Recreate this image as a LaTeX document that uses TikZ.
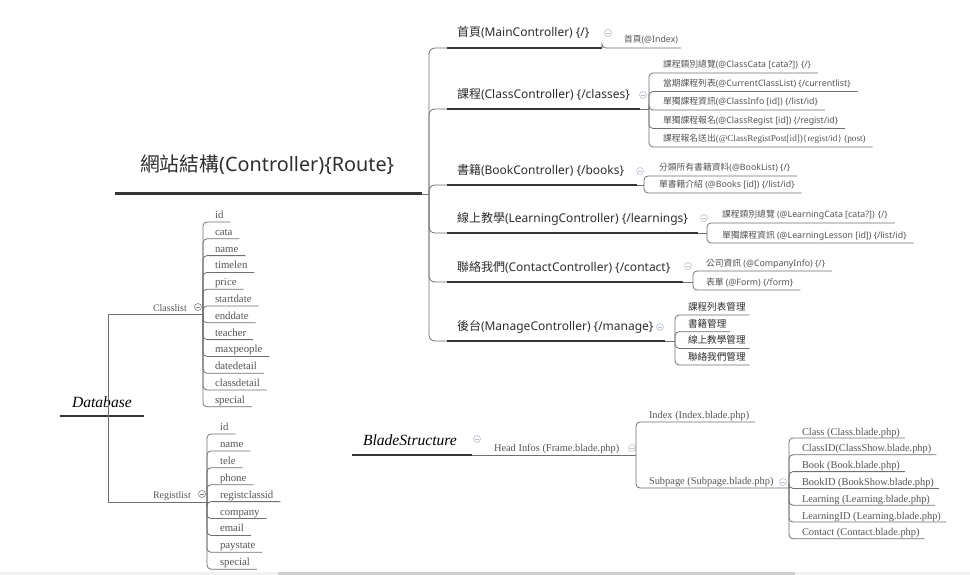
\documentclass[tikz,border=0pt]{standalone}
\usepackage{fontspec}
\setmainfont{Liberation Serif}
\newfontfamily\cjk{Noto Sans CJK TC}
\newfontfamily\nsans{Noto Sans}
\usetikzlibrary{calc}
\definecolor{txt}{HTML}{2E2E2E}
\definecolor{subc}{HTML}{555555}
\definecolor{heavyc}{HTML}{353535}
\definecolor{lnc}{HTML}{707070}
\definecolor{ico}{HTML}{BAC2CE}
\definecolor{icod}{HTML}{858585}
\definecolor{sbar}{HTML}{F1F1F1}
\definecolor{sthumb}{HTML}{CFCFCF}
\newcommand\zhtxt[1]{{\cjk #1}}
\newcommand\lpad{7}
% name, style, junction, text x, underline y, baseline offset, text
\newcommand\mmleaf[7]{%
  \coordinate (#1y) at (0,#5);
  \node[#2, anchor=base west] (#1) at (#4,#5-#6) {#7};
  \draw[elbow] (#3) |- ($(#1.east |- #1y)+(\lpad,0)$);
}
\begin{document}
\begin{tikzpicture}[x=1pt,y=-1pt,
  every node/.style={inner sep=0pt, outer sep=0pt},
  ttl/.style={font=\nsans\fontsize{19.8}{22}\selectfont, text=txt},
  br/.style={font=\nsans\fontsize{12}{14}\selectfont, text=txt},
  lf/.style={font=\nsans\fontsize{8.8}{10}\selectfont, text=subc},
  lfb/.style={font=\nsans\fontsize{9.6}{11}\selectfont, text=txt},
  fld/.style={font=\fontsize{10.8}{12}\selectfont, text=subc},
  lbl/.style={font=\fontsize{10}{12}\selectfont, text=subc},
  bld/.style={font=\fontsize{10.4}{12}\selectfont, text=subc},
  root/.style={font=\itshape\fontsize{15.6}{18}\selectfont, text=black},
  heavy/.style={draw=heavyc, line width=2.6pt},
  lnk/.style={draw=lnc, line width=0.8pt},
  elbow/.style={lnk, rounded corners=4pt},
  coll/.style={circle, draw=#1, line width=0.6pt, minimum size=7pt,
    path picture={\draw[#1, line width=0.6pt] ([xshift=1.7pt]path picture bounding box.west) -- ([xshift=-1.7pt]path picture bounding box.east);}},
  coll/.default=ico]
\fill[white] (0,0) rectangle (970,575);
\useasboundingbox (0,0) rectangle (970,575);
\fill[sbar] (0,572) rectangle (970,575);
\fill[sthumb] (278,572) rectangle (795,575);

% ---------- Title / controller tree ----------
\node[ttl, anchor=base west] (title) at (140,172) {\zhtxt{網站結構}(Controller)\{Route\}};
\coordinate (tL) at (115,194);
\coordinate (tR) at (422,194);
\draw[heavy, line width=3pt] (tL) -- (tR);
\coordinate (hub) at (429,194);
\draw[lnk] (tR) -- (hub);

% branch 1
\node[br, anchor=base west] (b1) at (457,37) {\zhtxt{首頁}(MainController) \{/\}};
\coordinate (b1s) at (447,48); \coordinate (b1e) at (602,48);
\draw[elbow, rounded corners=6pt] (hub) |- (b1s);
\draw[heavy] (b1s) -- (b1e);
\node[coll] (i1) at (608,33) {};
\renewcommand\lpad{3}
\mmleaf{a1}{lf}{b1e}{624}{48}{5}{\zhtxt{首頁}(@Index)}
\renewcommand\lpad{7}

% branch 2
\node[br, anchor=base west] (b2) at (457,98.5) {\zhtxt{課程}(ClassController) \{/classes\}};
\coordinate (b2s) at (447,109); \coordinate (b2e) at (640,109);
\draw[elbow, rounded corners=6pt] (hub) |- (b2s);
\draw[heavy] (b2s) -- (b2e);
\node[coll] (i2) at (643,95) {};
\coordinate (j2) at (649,109);
\draw[lnk] (b2e) -- (j2);
\mmleaf{k1}{lf}{j2}{663}{73}{5}{\zhtxt{課程類別總覽}(@ClassCata [cata?]) \{/\}}
\mmleaf{k2}{lf}{j2}{663}{91.5}{5}{\zhtxt{當期課程列表}(@CurrentClassList) \{/currentlist\}}
\mmleaf{k3}{lf}{j2}{663}{110}{5}{\zhtxt{單獨課程資訊}(@ClassInfo [id]) \{/list/id\}}
\mmleaf{k4}{lf}{j2}{663}{128.5}{5}{\zhtxt{單獨課程報名}(@ClassRegist [id]) \{/regist/id\}}
\mmleaf{k5}{lf}{j2}{663}{147}{5}{\zhtxt{課程報名送出}{\rmfamily\fontsize{9.2}{10}\selectfont(@ClassRegistPost[id])\{regist/id\} (post)}}

% branch 3
\node[br, anchor=base west] (b3) at (457,174.5) {\zhtxt{書籍}(BookController) \{/books\}};
\coordinate (b3s) at (447,185); \coordinate (b3e) at (637,185);
\draw[elbow, rounded corners=6pt] (hub) |- (b3s);
\draw[heavy] (b3s) -- (b3e);
\node[coll] (i3) at (640,171) {};
\coordinate (j3) at (644,185);
\draw[lnk] (b3e) -- (j3);
\mmleaf{s1}{lf}{j3}{659}{176}{5}{\zhtxt{分類所有書籍資料}(@BookList) \{/\}}
\mmleaf{s2}{lf}{j3}{659}{193}{5}{\zhtxt{單書籍介紹} (@Books [id]) \{/list/id\}}

% branch 4
\node[br, anchor=base west] (b4) at (457,222.5) {\zhtxt{線上教學}(LearningController) \{/learnings\}};
\coordinate (b4s) at (447,233); \coordinate (b4e) at (698,233);
\draw[elbow, rounded corners=6pt] (hub) |- (b4s);
\draw[heavy] (b4s) -- (b4e);
\node[coll] (i4) at (704,218) {};
\coordinate (j4) at (707,233);
\draw[lnk] (b4e) -- (j4);
\mmleaf{e1}{lf}{j4}{722}{223}{5}{\zhtxt{課程類別總覽} (@LearningCata [cata?]) \{/\}}
\mmleaf{e2}{lf}{j4}{722}{243}{5}{\zhtxt{單獨課程資訊} (@LearningLesson [id]) \{/list/id\}}

% branch 5
\node[br, anchor=base west] (b5) at (457,271.5) {\zhtxt{聯絡我們}(ContactController) \{/contact\}};
\coordinate (b5s) at (447,282); \coordinate (b5e) at (683,282);
\draw[elbow, rounded corners=6pt] (hub) |- (b5s);
\draw[heavy] (b5s) -- (b5e);
\node[coll] (i5) at (688,266) {};
\coordinate (j5) at (693,282);
\draw[lnk] (b5e) -- (j5);
\mmleaf{f1}{lf}{j5}{706}{271}{5}{\zhtxt{公司資訊} (@CompanyInfo) \{/\}}
\mmleaf{f2}{lf}{j5}{706}{290}{5}{\zhtxt{表單} (@Form) \{/form\}}

% branch 6
\node[br, anchor=base west] (b6) at (457,330.5) {\zhtxt{後台}(ManageController) \{/manage\}};
\coordinate (b6s) at (447,341); \coordinate (b6e) at (665,341);
\draw[elbow, rounded corners=6pt] (hub) |- (b6s);
\draw[heavy] (b6s) -- (b6e);
\node[coll] (i6) at (660,327) {};
\coordinate (j6) at (675,341);
\draw[lnk] (b6e) -- (j6);
\renewcommand\lpad{4}
\mmleaf{m1}{lfb}{j6}{688}{315}{4.5}{\zhtxt{課程列表管理}}
\mmleaf{m2}{lfb}{j6}{688}{331.7}{4.5}{\zhtxt{書籍管理}}
\mmleaf{m3}{lfb}{j6}{688}{348.4}{4.5}{\zhtxt{線上教學管理}}
\mmleaf{m4}{lfb}{j6}{688}{365}{4.5}{\zhtxt{聯絡我們管理}}

% ---------- Database ----------
\node[root, anchor=base west] (db) at (72,407.3) {Database};
\coordinate (dbL) at (60,416); \coordinate (dbR) at (144,416);
\draw[heavy] (dbL) -- (dbR);
\coordinate (dbj) at (108,416);
\coordinate (cj) at (203,314);
\coordinate (rj) at (207,502);
\draw[lnk] (dbj) |- (cj);
\draw[lnk] (dbj) |- (rj);
\node[lbl, anchor=base west] (cl) at (153,311) {Classlist};
\node[coll=icod] (ic) at (198,307) {};
\node[lbl, anchor=base west] (rl) at (153,498) {Registlist};
\node[coll=icod] (ir) at (202,494) {};
\renewcommand\lpad{7}
\foreach \t [count=\i from 0] in {id,cata,name,timelen,price,startdate,enddate,teacher,maxpeople,datedetail,classdetail,special}{
  \pgfmathsetmacro\yy{222+16.8*\i}
  \mmleaf{c\i}{fld}{cj}{215}{\yy}{3.5}{\t}
}
\foreach \t [count=\i from 0] in {id,name,tele,phone,registclassid,company,email,paystate,special}{
  \pgfmathsetmacro\yy{434+16.9*\i}
  \mmleaf{r\i}{fld}{rj}{220}{\yy}{3.5}{\t}
}

% ---------- Blade structure ----------
\node[root, anchor=base west] (bs) at (363,445.7) {BladeStructure};
\coordinate (bsL) at (352,455); \coordinate (bsR) at (472,455);
\draw[heavy] (bsL) -- (bsR);
\node[coll] (ib) at (477,439) {};
\node[bld, anchor=base west] (hi) at (494,451.7) {Head Infos (Frame.blade.php)};
\coordinate (hj) at (636,455);
\draw[lnk] (bsR) -- (hj);
\node[coll] (ih) at (632,448) {};
\renewcommand\lpad{6}
\mmleaf{ix}{bld}{hj}{649}{422}{3.5}{Index (Index.blade.php)}
\node[bld, anchor=base west] (sp) at (649,484) {Subpage (Subpage.blade.php)};
\coordinate (sj) at (789,488);
\draw[elbow] (hj) |- (sj);
\node[coll] (is) at (783,482) {};
\renewcommand\lpad{5}
\foreach \t [count=\i from 0] in {Class (Class.blade.php),ClassID(ClassShow.blade.php),Book (Book.blade.php),BookID (BookShow.blade.php),Learning (Learning.blade.php),LearningID (Learning.blade.php),Contact (Contact.blade.php)}{
  \pgfmathsetmacro\yy{438+16.8*\i}
  \mmleaf{p\i}{bld}{sj}{802}{\yy}{3}{\t}
}
\end{tikzpicture}
\end{document}
